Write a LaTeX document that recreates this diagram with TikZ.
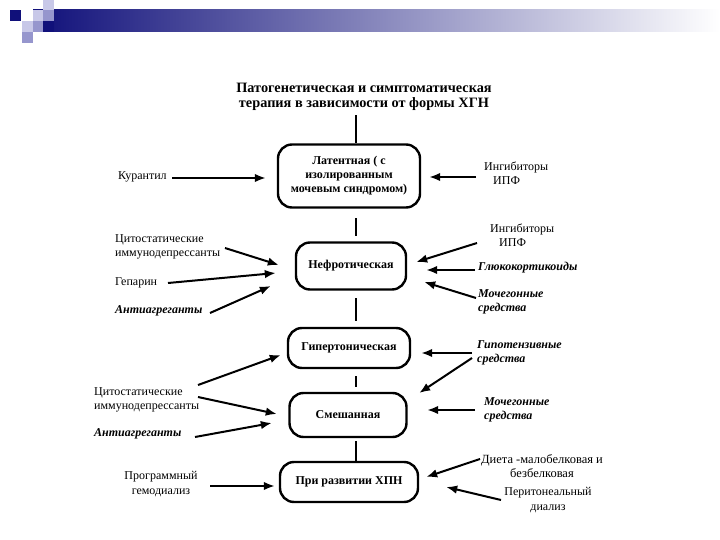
\documentclass[tikz,border=0pt]{standalone}
\usepackage{fontspec}
\setmainfont{Liberation Serif}
\usetikzlibrary{arrows.meta,positioning,calc}
\definecolor{navy}{RGB}{16,16,122}
\definecolor{lilac}{RGB}{200,200,232}
\definecolor{mauve}{RGB}{150,150,205}

\begin{document}
\begin{tikzpicture}[x=1pt, y=-1pt, every node/.style={font=\fontsize{12}{14.5}\selectfont, inner sep=0pt}]
\tikzset{form/.style={draw, line width=2.4pt, rounded corners=14pt, align=center, font=\fontsize{12}{14}\selectfont\bfseries}}
\tikzset{drug/.style={align=left, font=\fontsize{12}{14.5}\selectfont}}
\tikzset{drugbi/.style={align=left, font=\fontsize{12}{14.5}\selectfont\bfseries\itshape}}
\tikzset{arrow/.style={-{Latex[length=11pt, width=8.5pt]}, line width=2pt}}
\tikzset{link/.style={line width=1.8pt}}
\useasboundingbox (0,0) rectangle (720,540);

% header band
\shade[left color=navy, right color=white] (33,10) rectangle (720,32);
\fill[navy] (10,10) rectangle (21,21);
\fill[lilac] (43,0) rectangle (54,10);
\fill[lilac] (33,10) rectangle (43,21);
\fill[mauve] (43,10) rectangle (54,21);
\fill[lilac] (22,21) rectangle (33,32);
\fill[mauve] (33,21) rectangle (43,32);
\fill[navy] (43,21) rectangle (54,32);
\fill[mauve] (22,32) rectangle (33,43);

% title
\node[align=center, font=\fontsize{14.3}{15.5}\selectfont\bfseries] (title) at (364,97)
  {Патогенетическая и симптоматическая\\терапия в зависимости от формы ХГН};
\coordinate (axis) at (356,0);

% forms of the disease
\node[form, minimum width=142pt, minimum height=63pt] (latent) at (349,176)
  {Латентная ( с\\изолированным\\мочевым синдромом)};
\node[form, minimum width=110pt, minimum height=47pt] (nephro) at (351,266) {Нефротическая};
\node[form, minimum width=122pt, minimum height=40pt] (hyper) at (349,348) {Гипертоническая};
\node[form, minimum width=117pt, minimum height=44pt] (mixed) at (348,415) {Смешанная};
\node[form, minimum width=138pt, minimum height=40pt] (chpn) at (349,482) {При развитии ХПН};

\draw[link] (title.south -| axis) ++(0,4) -- (latent.north -| axis);
\draw[link, shorten <=9.5pt, shorten >=5.5pt] (latent.south -| axis) -- (nephro.north -| axis);
\draw[link, shorten <=7.5pt, shorten >=6pt] (nephro.south -| axis) -- (hyper.north -| axis);
\draw[link, shorten <=7pt, shorten >=5pt] (hyper.south -| axis) -- (mixed.north -| axis);
\draw[link, shorten <=3pt] (mixed.south -| axis) -- (chpn.north -| axis);

% left side
\node[drug, anchor=west] (kur) at (118,177) {Курантил};
\node[drug, anchor=west] (cyto1) at (115,247) {Цитостатические\\иммунодепрессанты};
\node[drug, anchor=west] (hep) at (115,283) {Гепарин};
\node[drugbi, anchor=west] (anti1) at (115,311) {Антиагреганты};
\node[drug, anchor=west] (cyto2) at (94,400) {Цитостатические\\иммунодепрессанты};
\node[drugbi, anchor=west] (anti2) at (94,434) {Антиагреганты};
\node[drug, align=center] (hemo) at (161,484) {Программный\\гемодиализ};

% right side
\node[drug, anchor=west] (ipf1) at (484,173) {Ингибиторы\\\hspace*{9pt}ИПФ};
\node[drug, anchor=west] (ipf2) at (490,235) {Ингибиторы\\\hspace*{9pt}ИПФ};
\node[drugbi, anchor=west] (gluc) at (478,268) {Глюкокортикоиды};
\node[drugbi, anchor=west] (diur1) at (478,302) {Мочегонные\\средства};
\node[drugbi, anchor=west] (hypot) at (477,353) {Гипотензивные\\средства};
\node[drugbi, anchor=west] (diur2) at (484,410) {Мочегонные\\средства};
\node[drug, align=center, font=\fontsize{12.5}{14.5}\selectfont] (diet) at (542,466) {Диета -малобелковая и\\безбелковая};
\node[drug, align=center] (perit) at (548,500) {Перитонеальный\\диализ};

% arrows into the forms, left
\draw[arrow] ($(kur.west)+(54,1)$) -- ($(latent.west)+(-11,2)$);
\draw[arrow] ($(cyto1.west)+(110,1)$) -- ($(nephro.west)+(-16,-1)$);
\draw[arrow] ($(hep.west)+(53,0)$) -- ($(nephro.west)+(-19,7)$);
\draw[arrow] ($(anti1.west)+(95,2)$) -- ($(nephro.west)+(-24,20)$);
\draw[arrow] ($(cyto2.west)+(104,-15)$) -- ($(hyper.west)+(-6,7)$);
\draw[arrow] ($(cyto2.west)+(104,-3)$) -- ($(mixed.west)+(-11.5,-1)$);
\draw[arrow] ($(anti2.west)+(101,3)$) -- ($(mixed.west)+(-16.5,8)$);
\draw[arrow] ($(hemo.center)+(49,2)$) -- ($(chpn.west)+(-4,4)$);

% arrows into the forms, right
\draw[arrow] ($(ipf1.west)+(-8,4)$) -- ($(latent.east)+(8,1)$);
\draw[arrow] ($(ipf2.west)+(-13,8)$) -- ($(nephro.east)+(9,-4)$);
\draw[arrow] ($(gluc.west)+(-3,2)$) -- ($(nephro.east)+(19,4)$);
\draw[arrow] ($(diur1.west)+(-2,-4)$) -- ($(nephro.east)+(17,16)$);
\draw[arrow] ($(hypot.west)+(-5,0)$) -- ($(hyper.east)+(10,5)$);
\draw[arrow] ($(hypot.west)+(-5,5)$) -- ($(mixed.east)+(11.5,-22)$);
\draw[arrow] ($(diur2.west)+(-9,0)$) -- ($(mixed.east)+(19.5,-5)$);
\draw[arrow] ($(diet.center)+(-62,-7)$) -- ($(chpn.east)+(7,-5)$);
\draw[arrow] ($(perit.center)+(-47,0)$) -- ($(chpn.east)+(27,5)$);
\end{tikzpicture}
\end{document}
